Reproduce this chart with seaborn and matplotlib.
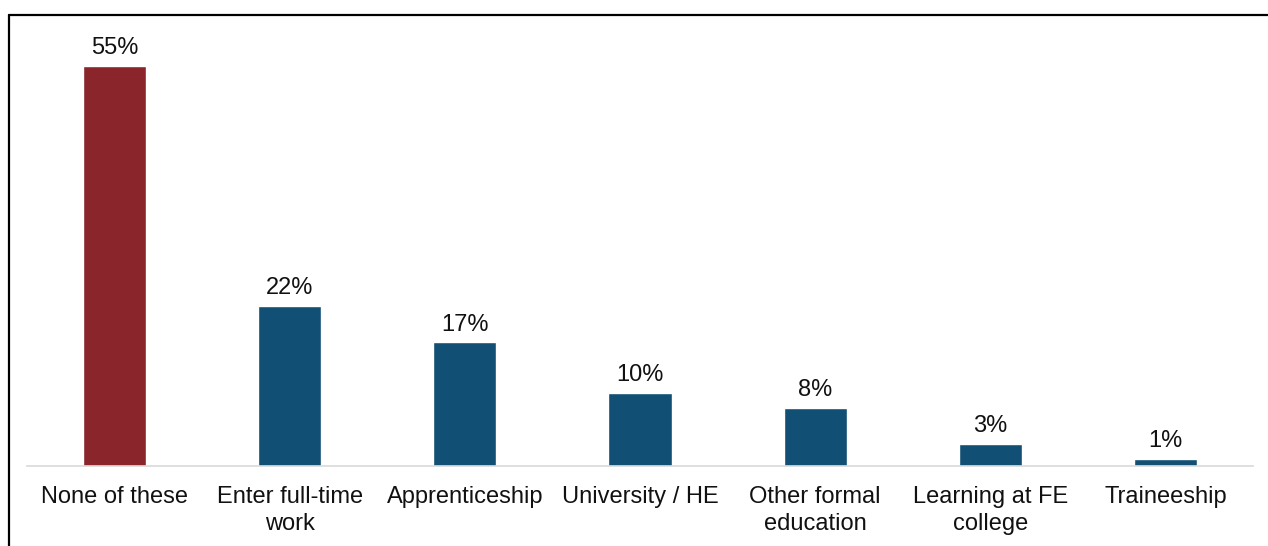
import matplotlib
matplotlib.use("Agg")
import matplotlib.pyplot as plt
import seaborn as sns
import pandas as pd
from matplotlib.lines import Line2D

categories = ["None of these", "Enter full-time\nwork", "Apprenticeship", "University / HE",
              "Other formal\neducation", "Learning at FE\ncollege", "Traineeship"]
values = [55, 22, 17, 10, 8, 3, 1]
colors = ["#8B252C", "#114F74", "#114F74", "#114F74", "#114F74", "#114F74", "#114F74"]

sns.set_theme(style="white")
plt.rcParams["font.family"] = ["Liberation Sans", "DejaVu Sans"]

df = pd.DataFrame({"cat": categories, "val": values})

fig = plt.figure(figsize=(12.68, 5.46), dpi=100)
ax = fig.add_axes([27/1268, 80/546, 1226/1268, 436/546])
sns.barplot(data=df, x="cat", y="val", hue="cat", palette=colors, legend=False,
            width=0.36, saturation=1, ax=ax)
ax.set_ylim(0, 60)
ax.set_xlim(-0.5, len(categories) - 0.5)
for c in ax.containers:
    ax.bar_label(c, labels=[f"{v:.0f}%" for v in c.datavalues], padding=5, fontsize=17, color="#111111")
ax.set_xlabel("")
ax.set_ylabel("")
ax.set_yticks([])
ax.tick_params(axis="x", length=0, pad=14.5, labelsize=17, labelcolor="#111111")
for lbl in ax.get_xticklabels():
    lbl.set_linespacing(1.27)
for s in ["top", "right", "left"]:
    ax.spines[s].set_visible(False)
ax.spines["bottom"].set_color("#D9D9D9")
ax.spines["bottom"].set_linewidth(1.2)

# outer frame (top and left)
fig.add_artist(Line2D([9/1268, 1], [1 - 14.5/546, 1 - 14.5/546], color="black", lw=1.6, transform=fig.transFigure))
fig.add_artist(Line2D([9/1268, 9/1268], [0, 1 - 14.5/546], color="black", lw=1.6, transform=fig.transFigure))

fig.savefig("out.png", dpi=100)
